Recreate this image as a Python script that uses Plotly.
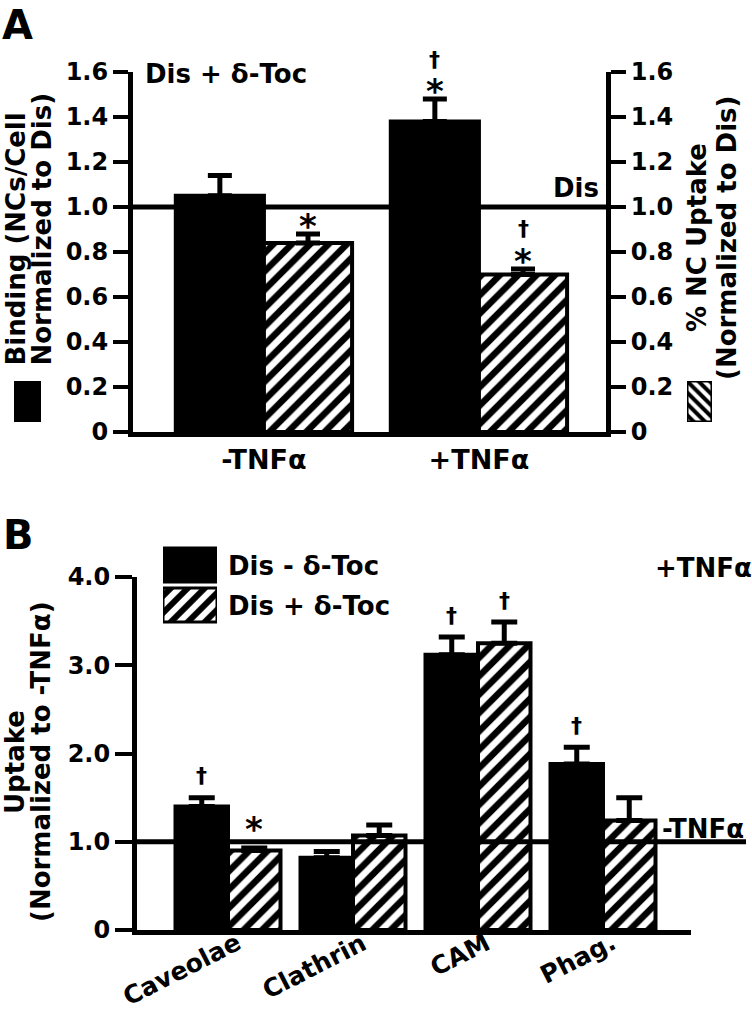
import plotly.graph_objects as go

# ---------------- data ----------------
A_groups = ["-TNFα", "+TNFα"]
A_binding = [1.05, 1.38]
A_binding_err = [0.09, 0.10]
A_uptake = [0.84, 0.70]
A_uptake_err = [0.04, 0.025]
A_binding_marks = [[], ["*", "†"]]
A_uptake_marks = [["*"], ["*", "†"]]
A_yticks = [0, 0.2, 0.4, 0.6, 0.8, 1.0, 1.2, 1.4, 1.6]
A_yticklabels = ["0", "0.2", "0.4", "0.6", "0.8", "1.0", "1.2", "1.4", "1.6"]

B_routes = ["Caveolae", "Clathrin", "CAM", "Phag."]
B_series = ["Dis - δ-Toc", "Dis + δ-Toc"]
B_minus = [1.40, 0.82, 3.12, 1.88]
B_minus_err = [0.10, 0.07, 0.20, 0.19]
B_plus = [0.90, 1.07, 3.25, 1.24]
B_plus_err = [0.03, 0.12, 0.24, 0.26]
B_minus_marks = [["†"], [], ["†"], ["†"]]
B_plus_marks = [["*"], [], ["†"], []]
B_yticks = [0, 1, 2, 3, 4]
B_yticklabels = ["0", "1.0", "2.0", "3.0", "4.0"]

REF_LEVEL = 1.0

# ---------------- helpers ----------------
W, H = 752, 1015
FONT = "DejaVu Sans"


def px(x):
    return x / W


def py(y):
    return 1 - y / H


def f(size):
    return dict(family=FONT, size=size, color="black", weight="bold")


def pat(shape, size):
    return dict(shape=shape, fgcolor="black", bgcolor="white", fgopacity=1, size=size, solidity=0.5)


solid = dict(color="black", line=dict(color="black", width=4))
hatch = dict(color="white", pattern=pat("/", 13), line=dict(color="black", width=4))


def err(vals, cap):
    return dict(type="data", symmetric=False, array=vals, arrayminus=[0] * len(vals),
                color="black", thickness=5, width=cap)


fig = go.Figure()

# ---------------- panel A ----------------
WA = 0.41
xa = list(range(len(A_groups)))
fig.add_trace(go.Bar(x=xa, y=A_binding, width=WA, offset=-WA, marker=solid,
                     error_y=err(A_binding_err, 12), xaxis="x", yaxis="y"))
fig.add_trace(go.Bar(x=xa, y=A_uptake, width=WA, offset=0, marker=hatch,
                     error_y=err(A_uptake_err, 12), xaxis="x", yaxis="y2"))

# ---------------- panel B ----------------
WB = 0.42
xb = list(range(len(B_routes)))
fig.add_trace(go.Bar(x=xb, y=B_minus, width=WB, offset=-WB, marker=solid, name=B_series[0],
                     error_y=err(B_minus_err, 13), xaxis="x2", yaxis="y3"))
fig.add_trace(go.Bar(x=xb, y=B_plus, width=WB, offset=0, marker=hatch, name=B_series[1],
                     error_y=err(B_plus_err, 13), xaxis="x2", yaxis="y3"))

# legend glyphs (drawn as bars on small hidden axes)
gl = dict(color="black", line=dict(color="black", width=3))
fig.add_trace(go.Bar(x=[1], y=[1], width=0.85, orientation="h", marker=gl, xaxis="x3", yaxis="y4"))
fig.add_trace(go.Bar(x=[1], y=[0], width=0.85, orientation="h",
                     marker=dict(color="white", pattern=pat("/", 12), line=dict(color="black", width=3)),
                     xaxis="x3", yaxis="y4"))
fig.add_trace(go.Bar(x=[0], y=[1], width=1, marker=gl, xaxis="x4", yaxis="y5"))
fig.add_trace(go.Bar(x=[0], y=[1], width=1,
                     marker=dict(color="white", pattern=pat("\\", 8), line=dict(color="black", width=3)),
                     xaxis="x5", yaxis="y6"))

axline = dict(showline=True, linecolor="black", linewidth=5, showgrid=False, zeroline=False,
              automargin=False)
yax = dict(axline, ticks="outside", ticklen=15, tickwidth=4, tickcolor="black", tickfont=f(24))
hidden = dict(visible=False, fixedrange=True, automargin=False)

fig.update_layout(
    width=W, height=H, margin=dict(l=0, r=0, t=0, b=0, pad=0, autoexpand=False),
    paper_bgcolor="white", plot_bgcolor="rgba(0,0,0,0)",
    showlegend=False, barmode="overlay",
    xaxis=dict(axline, domain=[px(133), px(606)], range=[-0.609, 1.591], anchor="y",
               tickvals=xa, ticktext=A_groups, ticks="", tickfont=f(27)),
    yaxis=dict(yax, domain=[py(432), py(72)], range=[0, 1.6], anchor="x",
               tickvals=A_yticks, ticktext=A_yticklabels),
    yaxis2=dict(yax, overlaying="y", side="right", range=[0, 1.6], anchor="x",
                tickvals=A_yticks, ticktext=A_yticklabels),
    xaxis2=dict(axline, domain=[px(137), px(691)], range=[-0.728, 3.704], anchor="y3",
                tickvals=xb, showticklabels=False, ticks=""),
    yaxis3=dict(yax, domain=[py(930), py(577)], range=[0, 4.0], anchor="x2",
                tickvals=B_yticks, ticktext=B_yticklabels, ticklen=17),
    xaxis3=dict(hidden, domain=[px(163), px(217)], range=[0, 1], anchor="y4"),
    yaxis4=dict(hidden, domain=[py(625), py(545)], range=[-0.5, 1.5], anchor="x3"),
    xaxis4=dict(hidden, domain=[px(14), px(41)], range=[-0.5, 0.5], anchor="y5"),
    yaxis5=dict(hidden, domain=[py(422), py(381)], range=[0, 1], anchor="x4"),
    xaxis5=dict(hidden, domain=[px(687), px(712)], range=[-0.5, 0.5], anchor="y6"),
    yaxis6=dict(hidden, domain=[py(422), py(381)], range=[0, 1], anchor="x5"),
)

# reference lines
fig.add_shape(type="line", xref="x domain", yref="y", x0=0, x1=1, y0=REF_LEVEL, y1=REF_LEVEL,
              line=dict(color="black", width=5), layer="above")
fig.add_shape(type="line", xref="paper", yref="y3", x0=px(137), x1=px(746), y0=REF_LEVEL, y1=REF_LEVEL,
              line=dict(color="black", width=5), layer="above")

ann = []


def marks(xs, vals, errs, mk, side, w, xref, yref, star_gap):
    for x, v, e, m in zip(xs, vals, errs, mk):
        gap = star_gap if (m and m[0] == "*") else 22
        for k, s in enumerate(m):
            g = gap + 25 * k
            if s == "*":
                ann.append(dict(x=x + side * w / 2, y=v + e, xref=xref, yref=yref, text="*",
                                showarrow=False, font=f(34), yanchor="middle", yshift=g - 7))
            else:
                ann.append(dict(x=x + side * w / 2, y=v + e, xref=xref, yref=yref, text="†",
                                showarrow=False, font=f(22), yanchor="middle", yshift=g))


marks(xa, A_binding, A_binding_err, A_binding_marks, -1, WA, "x", "y", 15)
marks(xa, A_uptake, A_uptake_err, A_uptake_marks, 1, WA, "x", "y2", 15)
marks(xb, B_minus, B_minus_err, B_minus_marks, -1, WB, "x2", "y3", 26)
marks(xb, B_plus, B_plus_err, B_plus_marks, 1, WB, "x2", "y3", 26)

# slanted category labels for panel B
for x, name in zip(xb, B_routes):
    ann.append(dict(x=x, y=0, xref="x2", yref="y3", text=name, showarrow=False, font=f(25),
                    textangle=-27, xanchor="right", yanchor="top", xshift=20, yshift=5))


def txt(text, x, y, size, xanchor="left", yanchor="middle", angle=0):
    ann.append(dict(text=text, x=px(x), y=py(y), xref="paper", yref="paper", showarrow=False,
                    font=f(size), xanchor=xanchor, yanchor=yanchor, textangle=angle))


txt("A", 0, 0, 40, yanchor="top")
txt("B", 1, 510, 40, yanchor="top")
txt("Dis + δ-Toc", 143, 74, 26)
txt("Dis", 601, 188, 26, xanchor="right")
txt(B_series[0], 226, 566, 26)
txt(B_series[1], 226, 606, 26)
txt("+TNFα", 653, 568, 26)
txt("-TNFα", 660, 829, 26)
# axis titles (rotated)
txt("Binding (NCs/Cell", 15, 368, 26, xanchor="center", yanchor="bottom", angle=-90)
txt("Normalized to Dis)", 41, 368, 26, xanchor="center", yanchor="bottom", angle=-90)
txt("% NC Uptake", 697, 238, 26, xanchor="center", angle=-90)
txt("(Normalized to Dis)", 727, 238, 26, xanchor="center", angle=-90)
txt("Uptake", 15, 762, 26, xanchor="center", angle=-90)
txt("(Normalized to -TNFα)", 41, 762, 26, xanchor="center", angle=-90)

fig.update_layout(annotations=ann)
fig.write_html("out.html", config={"displayModeBar": False},
               post_script="document.body.style.margin='0px';document.body.style.overflow='hidden';")
